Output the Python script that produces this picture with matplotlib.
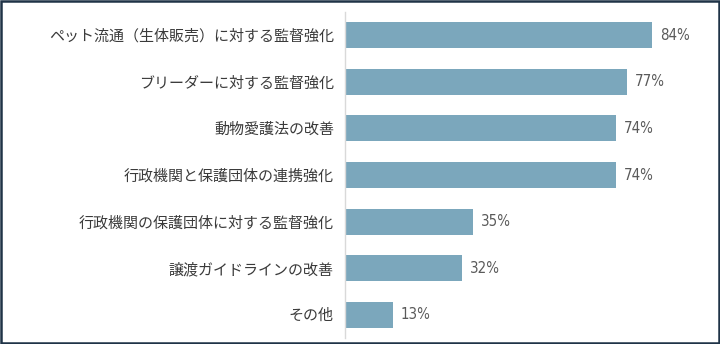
import matplotlib
matplotlib.use("Agg")
import matplotlib.pyplot as plt
from matplotlib.patches import Rectangle

categories = [
    "ペット流通（生体販売）に対する監督強化",
    "ブリーダーに対する監督強化",
    "動物愛護法の改善",
    "行政機関と保護団体の連携強化",
    "行政機関の保護団体に対する監督強化",
    "譲渡ガイドラインの改善",
    "その他",
]
values = [84, 77, 74, 74, 35, 32, 13]
value_labels = ["84%", "77%", "74%", "74%", "35%", "32%", "13%"]

plt.rcParams['font.family'] = ['Noto Sans CJK JP', 'DejaVu Sans']

fig = plt.figure(figsize=(7.2, 3.44), dpi=100)
W, H = 720, 344
ax = fig.add_axes([345 / W, 1 - 338 / H, 366 / W, 326 / H])

ypos = list(range(len(categories)))
ax.barh(ypos, values, height=0.56, color="#7BA7BC", edgecolor="none")
ax.set_ylim(len(categories) - 0.5, -0.5)
ax.set_xlim(0, 100)

for y, v, lab in zip(ypos, values, value_labels):
    ax.text(v + 2.2, y, lab, va="center", ha="left", fontsize=10.8,
            color="#5A5A5A", family=['DejaVu Sans'], fontstretch='condensed')

ax.set_yticks(ypos)
ax.set_yticklabels(categories, fontsize=10.8, color="#3A3A3A")
ax.tick_params(axis="y", length=0, pad=8)
ax.set_xticks([])
for s in ["top", "right", "bottom"]:
    ax.spines[s].set_visible(False)
ax.spines["left"].set_color("#D9D9D9")
ax.spines["left"].set_linewidth(1.0)

fig.patches.append(Rectangle((0.5 / W, 1.5 / H), 1 - 1.5 / W, 1 - 2.5 / H,
                             transform=fig.transFigure, fill=False,
                             edgecolor="#1F3347", linewidth=1.8))

fig.savefig("out.png", dpi=100, facecolor="white")
